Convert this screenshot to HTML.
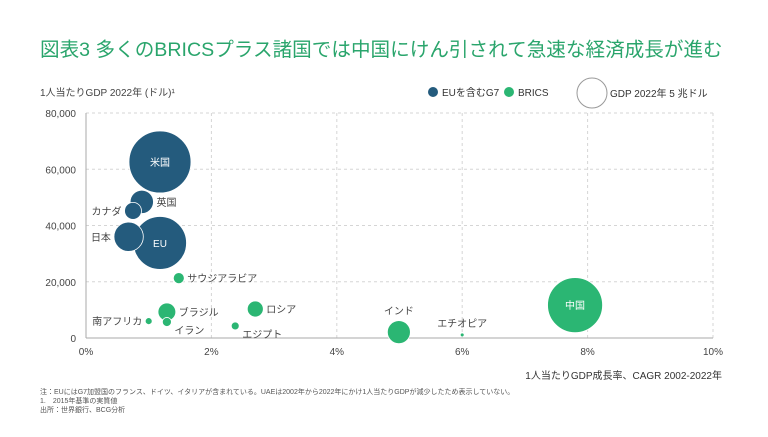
<!DOCTYPE html>
<html><head><meta charset="utf-8">
<style>
body{margin:0;background:#fff;width:768px;height:432px;overflow:hidden;font-family:"Liberation Sans","Noto Sans CJK JP",sans-serif;}
</style></head>
<body>
<svg id="chart" width="768" height="432" xmlns="http://www.w3.org/2000/svg" font-family="'Liberation Sans','Noto Sans CJK JP',sans-serif">
<text x="40" y="56" font-size="19.6" fill="#2aa56c">図表3 多くのBRICSプラス諸国では中国にけん引されて急速な経済成長が進む</text>
<text x="40" y="96" font-size="10" fill="#444">1人当たりGDP 2022年 (ドル)¹</text>
<g>
<circle cx="433" cy="92" r="5" fill="#245b7d"/>
<text x="442" y="96" font-size="10" fill="#333">EUを含むG7</text>
<circle cx="509" cy="92" r="5" fill="#2bb673"/>
<text x="518" y="96" font-size="10" fill="#333">BRICS</text>
<circle cx="592" cy="93" r="15" fill="#fff" stroke="#999"/>
<text x="610" y="97" font-size="10" fill="#333">GDP 2022年 5 兆ドル</text>
</g>
<g id="grid"></g>
<g id="marks"></g>
<text x="722" y="379" font-size="10" fill="#333" text-anchor="end">1人当たりGDP成長率、CAGR 2002-2022年</text>
<g font-size="7" fill="#555">
<text x="40" y="394">注：EUにはG7加盟国のフランス、ドイツ、イタリアが含まれている。UAEは2002年から2022年にかけ1人当たりGDPが減少したため表示していない。</text>
<text x="40" y="403">1.　2015年基準の実質値</text>
<text x="40" y="412">出所：世界銀行、BCG分析</text>
</g>
</svg>
<script>
const names=["米国","EU","英国","カナダ","日本","サウジアラビア","ブラジル","イラン","南アフリカ","ロシア","エジプト","インド","エチオピア","中国"];
const growth=[1.18,1.18,0.89,0.75,0.68,1.48,1.29,1.29,1.0,2.70,2.38,4.99,6.0,7.80];
const gdpPerCap=[62600,33800,48400,45200,36000,21300,9300,5700,6000,10300,4300,2100,1100,11700];
const gdp=[25.4,18.6,3.6,1.9,5.7,0.8,2.1,0.54,0.32,1.7,0.42,3.5,0.1,20];
const group=["g7","g7","g7","g7","g7","b","b","b","b","b","b","b","b","b"];
const xTicks=[0,2,4,6,8,10];
const yTicks=[0,20000,40000,60000,80000];
const NS="http://www.w3.org/2000/svg";
const X=v=>86+v*62.7, Y=v=>338-v*225/80000, R=g=>6.15*Math.sqrt(g);
function el(t,a,p){const e=document.createElementNS(NS,t);for(const k in a)e.setAttribute(k,a[k]);p.appendChild(e);return e;}
const grid=document.getElementById('grid'), marks=document.getElementById('marks');
yTicks.forEach(t=>{
  if(t>0){const l=el('line',{x1:86,x2:713,y1:Y(t),y2:Y(t),stroke:'#d5d5d5','stroke-dasharray':'3,3'},grid);
  }
  const tx=el('text',{x:76,y:Y(t)+4,'font-size':10,fill:'#444','text-anchor':'end'},grid);tx.textContent=t.toLocaleString('en-US');
  
});
xTicks.forEach(t=>{
  if(t>0){const l=el('line',{x1:X(t),x2:X(t),y1:113,y2:338,stroke:'#d5d5d5','stroke-dasharray':'3,3'},grid);
  }
  const tx=el('text',{x:X(t),y:355,'font-size':10,fill:'#444','text-anchor':'middle'},grid);tx.textContent=t+'%';
  
});
const ax=el('line',{x1:86,x2:713,y1:338,y2:338,stroke:'#aaa'},grid);

const ay=el('line',{x1:86,x2:86,y1:113,y2:338,stroke:'#aaa'},grid);

const inside={"米国":1,"EU":1,"中国":1};
const labelPos={"英国":[1,0],"カナダ":[-1,0],"日本":[-1,0],"サウジアラビア":[1,0],"ブラジル":[1,0],"イラン":[1,1],"南アフリカ":[-1,0],"ロシア":[1,0],"エジプト":[1,1],"インド":[0,-1],"エチオピア":[0,-1]};
names.forEach((n,i)=>{
  const cx=X(growth[i]),cy=Y(gdpPerCap[i]),r=R(gdp[i]);
  const c=el('circle',{cx,cy,r,fill:group[i]=='g7'?'#245b7d':'#2bb673',stroke:'#fff','stroke-width':0.8},marks);
  
  
  const t=el('text',{'font-size':10},marks);t.textContent=n;
  
  
  if(inside[n]){t.setAttribute('x',cx);t.setAttribute('y',cy+4);t.setAttribute('fill','#fff');t.setAttribute('text-anchor','middle');}
  else{const p=labelPos[n];t.setAttribute('fill','#444');
    if(p[0]==0){t.setAttribute('x',cx);t.setAttribute('y',cy-r-6);t.setAttribute('text-anchor','middle');}
    else if(p[0]>0){t.setAttribute('x',cx+r+3);t.setAttribute('y',cy+4+(p[1]?8:0));}
    else{t.setAttribute('x',cx-r-3);t.setAttribute('y',cy+4);t.setAttribute('text-anchor','end');}}
});
</script>
</body></html>
